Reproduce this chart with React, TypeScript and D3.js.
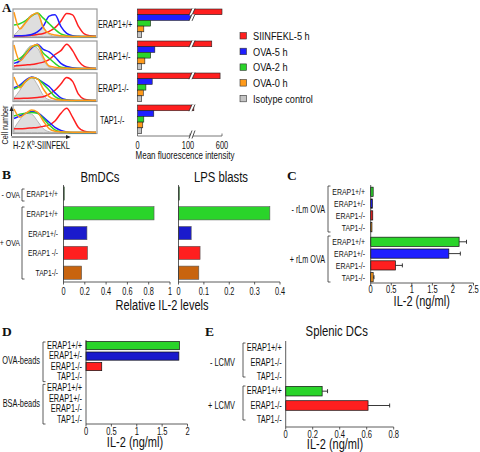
import React from "react";
import * as d3 from "d3";

const SANS = "'Liberation Sans', Arial, Helvetica, sans-serif";
const SERIF = "'Liberation Serif', 'Times New Roman', serif";

const RED = "#ff1f1f";
const BLUE = "#1f1fff";
const GREEN = "#2ad42a";
const ORANGE = "#ff9a1a";
const GRAY = "#c4c4c4";
const BROWN = "#c8640f";
const BBLUE = "#1a1acc";

// ---------- Panel A ----------
const aGenotypes = ["ERAP1+/+", "ERAP1+/-", "ERAP1-/-", "TAP1-/-"];
const aSeriesNames = ["SIINFEKL-5 h", "OVA-5 h", "OVA-2 h", "OVA-0 h", "Isotype control"];
const aSiinfekl5h = [600, 440, 570, 160];
const aOva5h = [105, 33, 28, 31];
const aOva2h = [25, 25, 16, 12];
const aOva0h = [12, 14, 11, 10];
const aIsotype = [8, 8, 8, 8];
const aTicks = [0, 100, 600];

const histBins = [0, 1, 2, 3, 4, 5, 6, 7, 8, 9, 10, 11, 12, 13, 14];
const histIsotype = [
  [5, 30, 60, 85, 88, 40, 8, 1, 0, 0, 0, 0, 0, 0, 0],
  [5, 30, 68, 90, 80, 35, 5, 0, 0, 0, 0, 0, 0, 0, 0],
  [10, 40, 78, 90, 62, 20, 3, 0, 0, 0, 0, 0, 0, 0, 0],
  [15, 50, 75, 72, 45, 15, 3, 0, 0, 0, 0, 0, 0, 0, 0],
];
const histOva0h = [
  [95, 30, 55, 82, 92, 35, 12, 6, 3, 1, 0, 0, 0, 0, 0],
  [92, 30, 55, 85, 94, 45, 10, 5, 2, 1, 0, 0, 0, 0, 0],
  [92, 50, 75, 90, 85, 45, 15, 5, 2, 1, 0, 0, 0, 0, 0],
  [92, 60, 75, 88, 80, 45, 15, 5, 3, 2, 1, 1, 1, 1, 1],
];
const histOva2h = [
  [45, 50, 62, 80, 92, 72, 50, 28, 10, 3, 0, 0, 0, 0, 0],
  [30, 40, 60, 85, 90, 60, 40, 20, 5, 2, 0, 0, 0, 0, 0],
  [45, 55, 75, 90, 85, 65, 40, 15, 4, 1, 0, 0, 0, 0, 0],
  [65, 72, 76, 78, 75, 55, 30, 10, 3, 1, 0, 0, 0, 0, 0],
];
const histOva5h = [
  [2, 3, 4, 8, 18, 40, 80, 85, 40, 12, 3, 1, 0, 0, 0],
  [20, 30, 55, 80, 95, 75, 65, 45, 20, 8, 3, 1, 0, 0, 0],
  [50, 60, 80, 92, 85, 70, 55, 30, 10, 3, 1, 0, 0, 0, 0],
  [55, 65, 75, 82, 78, 60, 40, 20, 8, 2, 0, 0, 0, 0, 0],
];
const histSiinfekl5h = [
  [2, 2, 3, 5, 8, 12, 20, 35, 60, 90, 85, 40, 10, 3, 1],
  [10, 12, 14, 16, 20, 25, 35, 55, 70, 95, 70, 30, 8, 2, 0],
  [8, 8, 9, 10, 12, 15, 25, 40, 65, 90, 75, 25, 5, 1, 0],
  [15, 15, 16, 18, 20, 24, 30, 45, 75, 95, 60, 20, 5, 1, 0],
];

// ---------- Panel B ----------
const bRowKeys = ["-OVA ERAP1+/+", "+OVA ERAP1+/+", "+OVA ERAP1+/-", "+OVA ERAP1-/-", "+OVA TAP1-/-"];
const bRowLabels = ["ERAP1+/+", "ERAP1+/+", "ERAP1+/-", "ERAP1 -/-", "TAP1-/-"];
const bBmDCs = [0.005, 0.85, 0.22, 0.225, 0.17];
const bLpsBlasts = [0.004, 0.36, 0.05, 0.085, 0.08];
const bTicksBm = [0, 0.2, 0.4, 0.6, 0.8, 1];
const bTicksLps = [0, 0.1, 0.2, 0.3, 0.4];

// ---------- Panel C ----------
const cGroups = ["- rLm OVA", "+ rLm OVA"];
const cRowLabels = ["ERAP1+/+", "ERAP1+/-", "ERAP1-/-", "TAP1-/-"];
const cMinus = [0.06, 0.04, 0.05, 0.03];
const cPlus = [2.15, 1.9, 0.6, 0.06];
const cPlusErr = [0.18, 0.28, 0.17, 0.02];
const cTicks = [0, 0.5, 1, 1.5, 2, 2.5];

// ---------- Panel D ----------
const dGroups = ["OVA-beads", "BSA-beads"];
const dRowLabels = ["ERAP1+/+", "ERAP1+/-", "ERAP1-/-", "TAP1-/-"];
const dOvaBeads = [1.84, 1.83, 0.31, 0];
const dBsaBeads = [0, 0, 0, 0];
const dTicks = [0, 0.5, 1, 1.5, 2];

// ---------- Panel E ----------
const eGroups = ["- LCMV", "+ LCMV"];
const eRowLabels = ["ERAP1+/+", "ERAP1-/-", "TAP1-/-"];
const eMinus = [0, 0, 0];
const ePlus = [0.27, 0.61, 0];
const ePlusErr = [0.04, 0.16, 0];
const eTicks = [0, 0.2, 0.4, 0.6, 0.8];

function T({ x, y, s = 10, sx = 0.75, anchor = "start", weight = "normal", family = SANS, rotate = 0, children }: any) {
  return (
    <text
      transform={`translate(${x},${y}) rotate(${rotate}) scale(${sx},1)`}
      fontSize={s}
      textAnchor={anchor}
      fontFamily={family}
      fontWeight={weight}
      fill="#111"
    >
      {children}
    </text>
  );
}

function Bracket({ x, y0, y1, w = 3 }: any) {
  return <path d={`M${x + w},${y0}H${x}V${y1}H${x + w}`} fill="none" stroke="#333" strokeWidth={0.8} />;
}

function XAxis({ scale, ticks, y, labelY, s = 10.5, sx = 0.7, fmt }: any) {
  const [r0, r1] = [scale(ticks[0]), scale(ticks[ticks.length - 1])];
  return (
    <g>
      <line x1={r0} x2={r1} y1={y} y2={y} stroke="#333" strokeWidth={0.8} />
      {ticks.map((t: number) => (
        <g key={t}>
          <line x1={scale(t)} x2={scale(t)} y1={y} y2={y + 2.5} stroke="#333" strokeWidth={0.8} />
          <T x={scale(t)} y={labelY} s={s} sx={sx} anchor="middle">
            {fmt ? fmt(t) : String(t)}
          </T>
        </g>
      ))}
    </g>
  );
}

function Histogram({ i, top }: any) {
  const x0 = 13, x1 = 97, h = 28.5;
  const xs = d3.scaleLinear().domain([0, 14]).range([x0 + 1, x1 - 1]);
  const ys = d3.scaleLinear().domain([0, 100]).range([top + h - 1, top + 2]);
  const line = d3.line<number>().x((_, k) => xs(histBins[k])).y((v) => ys(v)).curve(d3.curveMonotoneX);
  const area = d3
    .area<number>()
    .x((_, k) => xs(histBins[k]))
    .y0(ys(0))
    .y1((v) => ys(v))
    .curve(d3.curveMonotoneX);
  return (
    <g>
      <rect x={x0} y={top} width={x1 - x0} height={h} fill="#fff" stroke="#9a9a9a" strokeWidth={1.2} />
      <path d={area(histIsotype[i]) || ""} fill="#dedede" stroke="#a8a8a8" strokeWidth={0.8} />
      <path d={line(histSiinfekl5h[i]) || ""} fill="none" stroke={RED} strokeWidth={1.5} />
      <path d={line(histOva5h[i]) || ""} fill="none" stroke={BLUE} strokeWidth={1.5} />
      <path d={line(histOva2h[i]) || ""} fill="none" stroke={GREEN} strokeWidth={1.5} />
      <path d={line(histOva0h[i]) || ""} fill="none" stroke={ORANGE} strokeWidth={1.5} />
      <T x={98 + (i === 3 ? 2 : 0)} y={top + 19} s={11} sx={0.66}>
        {aGenotypes[i]}
      </T>
    </g>
  );
}

function PanelA() {
  const xA = d3.scaleLinear().domain([0, 100, 600]).range([137.5, 190, 222]);
  const yG = d3.scaleBand().domain(aGenotypes).range([9, 133.5]).paddingInner(0.11);
  const yS = d3.scaleBand().domain(aSeriesNames).range([0, yG.bandwidth()]);
  const series = [aSiinfekl5h, aOva5h, aOva2h, aOva0h, aIsotype];
  const cols = [RED, BLUE, GREEN, ORANGE, GRAY];
  const xb = xA(100) + 2;
  const brk = (yt: number, yb: number, key: string) => (
    <g key={key}>
      <polygon points={`${xb - 3},${yb + 0.5} ${xb},${yb + 0.5} ${xb + 3},${yt - 0.5} ${xb},${yt - 0.5}`} fill="#fff" />
      <line x1={xb - 3} y1={yb + 0.5} x2={xb} y2={yt - 0.5} stroke="#222" strokeWidth={0.8} />
      <line x1={xb} y1={yb + 0.5} x2={xb + 3} y2={yt - 0.5} stroke="#222" strokeWidth={0.8} />
    </g>
  );
  return (
    <g>
      <T x={2} y={12} s={13} sx={1} weight="bold" family={SERIF}>A</T>
      {aGenotypes.map((g, i) => (
        <Histogram key={g} i={i} top={[9, 41, 73, 105][i]} />
      ))}
      {/* axis arrows */}
      <line x1={11.5} y1={136} x2={11.5} y2={110} stroke="#222" strokeWidth={0.9} />
      <polygon points="9.5,111 13.5,111 11.5,106" fill="#222" />
      <line x1={11.5} y1={137} x2={67} y2={137} stroke="#222" strokeWidth={0.9} />
      <polygon points="66,135 66,139 71,137" fill="#222" />
      <T x={8} y={125} s={9.5} sx={0.76} anchor="middle" rotate={-90}>Cell number</T>
      <T x={13} y={148.5} s={10} sx={0.74}>
        H-2 K<tspan fontSize={6.5} dy={-3.5}>b</tspan>
        <tspan dy={3.5}>-SIINFEKL</tspan>
      </T>
      {/* bars */}
      {aGenotypes.map((g, gi) => (
        <g key={g}>
          {series.map((s, si) => {
            const y = (yG(g) as number) + (yS(aSeriesNames[si]) as number);
            const h = yS.bandwidth();
            return (
              <rect key={si} x={xA(0)} y={y} width={xA(s[gi]) - xA(0)} height={h} fill={cols[si]} stroke="#222" strokeWidth={0.6} />
            );
          })}
          {series.map((s, si) => {
            if (s[gi] <= 100) return null;
            const y = (yG(g) as number) + (yS(aSeriesNames[si]) as number);
            return brk(y, y + yS.bandwidth(), `b${si}`);
          })}
        </g>
      ))}
      <line x1={xA(0)} x2={xA(600)} y1={136} y2={136} stroke="#555" strokeWidth={0.8} />
      {aTicks.map((t) => (
        <line key={t} x1={xA(t)} x2={xA(t)} y1={133.5} y2={136} stroke="#555" strokeWidth={0.8} />
      ))}
      {brk(131, 138, "axis")}
      {aTicks.map((t) => (
        <T key={t} x={xA(t) + (t === 100 ? -2 : 0)} y={149} s={10} sx={0.74} anchor="middle">{String(t)}</T>
      ))}
      <T x={185} y={159} s={10.5} sx={0.76} anchor="middle">Mean fluorescence intensity</T>
      {/* legend */}
      {aSeriesNames.map((n, i) => (
        <g key={n}>
          <rect x={240} y={32.5 + i * 15.7} width={6.5} height={6.5} fill={cols[i]} stroke="#333" strokeWidth={0.6} />
          <T x={253} y={40 + i * 15.7} s={11.5} sx={0.8}>{n}</T>
        </g>
      ))}
    </g>
  );
}

function PanelB() {
  const yB = d3.scaleBand().domain(bRowKeys).range([186.9, 279.3]).paddingInner(0.333);
  const xBm = d3.scaleLinear().domain([0, 1]).range([63.5, 170]);
  const xLps = d3.scaleLinear().domain([0, 0.4]).range([178.5, 280]);
  const cols = [GREEN, GREEN, BBLUE, RED, BROWN];
  const axY = 282;
  return (
    <g>
      <T x={2} y={179} s={13.5} sx={1} weight="bold" family={SERIF}>B</T>
      <T x={100} y={181.5} s={14.5} sx={0.78} anchor="middle">BmDCs</T>
      <T x={221} y={181.5} s={14.5} sx={0.78} anchor="middle">LPS  blasts</T>
      <T x={20} y={198} s={9.5} sx={0.74} anchor="end">- OVA</T>
      <T x={20} y={246} s={9.5} sx={0.74} anchor="end">+ OVA</T>
      <Bracket x={22} y0={189} y1={201} w={2.5} />
      <Bracket x={22} y0={207} y1={279} w={2.5} />
      {bRowKeys.map((k, i) => {
        const y = yB(k) as number;
        const h = yB.bandwidth();
        return (
          <g key={k}>
            <T x={58} y={y + h / 2 + 3.4} s={9.5} sx={0.7} anchor="end">{bRowLabels[i]}</T>
            <rect x={xBm(0)} y={y} width={Math.max(xBm(bBmDCs[i]) - xBm(0), 0.8)} height={h} fill={cols[i]} stroke="#555" strokeWidth={0.6} />
            <rect x={xLps(0)} y={y} width={Math.max(xLps(bLpsBlasts[i]) - xLps(0), 0.8)} height={h} fill={cols[i]} stroke="#555" strokeWidth={0.6} />
          </g>
        );
      })}
      <line x1={xBm(0)} x2={xBm(0)} y1={185} y2={axY} stroke="#333" strokeWidth={0.8} />
      <line x1={xLps(0)} x2={xLps(0)} y1={185} y2={axY} stroke="#333" strokeWidth={0.8} />
      <XAxis scale={xBm} ticks={bTicksBm} y={axY} labelY={295} />
      <XAxis scale={xLps} ticks={bTicksLps} y={axY} labelY={295} />
      <T x={162} y={310} s={14.5} sx={0.76} anchor="middle">Relative IL-2 levels</T>
    </g>
  );
}

function ErrBar({ x0, x1, y }: any) {
  if (x1 - x0 < 0.5) return null;
  return (
    <g>
      <line x1={x0} x2={x1} y1={y} y2={y} stroke="#222" strokeWidth={0.9} />
      <line x1={x1} x2={x1} y1={y - 2} y2={y + 2} stroke="#222" strokeWidth={0.9} />
    </g>
  );
}

function PanelC() {
  const xC = d3.scaleLinear().domain([0, 2.5]).range([370.7, 473.5]);
  const yG = d3.scaleBand().domain(cGroups).range([186, 283]).paddingInner(0.06);
  const yR = d3.scaleBand().domain(cRowLabels).range([0, yG.bandwidth()]).paddingInner(0.22).paddingOuter(0.1);
  const cols = [GREEN, BLUE, RED, ORANGE];
  const groups = [cMinus, cPlus];
  const errs = [null, cPlusErr];
  return (
    <g>
      <T x={287} y={180} s={13.5} sx={1} weight="bold" family={SERIF}>C</T>
      {cGroups.map((g, gi) => {
        const g0 = yG(g) as number;
        const gh = yG.bandwidth();
        return (
          <g key={g}>
            <T x={325} y={g0 + gh / 2 + 3} s={10} sx={0.72} anchor="end">{g}</T>
            <Bracket x={328} y0={g0} y1={g0 + gh - 1} w={2.5} />
            {cRowLabels.map((r, ri) => {
              const y = g0 + (yR(r) as number);
              const h = yR.bandwidth();
              const v = groups[gi][ri];
              const e = errs[gi];
              return (
                <g key={r}>
                  <T x={365} y={y + h / 2 + 3.3} s={9.5} sx={0.73} anchor="end">{r}</T>
                  <rect x={xC(0)} y={y} width={Math.max(xC(v) - xC(0), 0.8)} height={h} fill={cols[ri]} stroke="#111" strokeWidth={0.7} />
                  {e && <ErrBar x0={xC(v)} x1={xC(v + e[ri])} y={y + h / 2} />}
                </g>
              );
            })}
          </g>
        );
      })}
      <line x1={xC(0)} x2={xC(0)} y1={185} y2={283} stroke="#333" strokeWidth={0.8} />
      <XAxis scale={xC} ticks={cTicks} y={283} labelY={293} s={10.5} sx={0.72} />
      <T x={421.7} y={306} s={14.5} sx={0.76} anchor="middle">IL-2 (ng/ml)</T>
    </g>
  );
}

function PanelD() {
  const xD = d3.scaleLinear().domain([0, 2]).range([86, 187.5]);
  const yG = d3.scaleBand().domain(dGroups).range([341, 424]).paddingInner(0.04);
  const yR = d3.scaleBand().domain(dRowLabels).range([0, yG.bandwidth()]).paddingInner(0.22).paddingOuter(0.05);
  const cols = [GREEN, BBLUE, RED, ORANGE];
  const groups = [dOvaBeads, dBsaBeads];
  return (
    <g>
      <T x={2} y={336} s={13.5} sx={1} weight="bold" family={SERIF}>D</T>
      {dGroups.map((g, gi) => {
        const g0 = yG(g) as number;
        const gh = yG.bandwidth();
        return (
          <g key={g}>
            <T x={40} y={g0 + gh / 2 + 3} s={10} sx={0.74} anchor="end">{g}</T>
            <Bracket x={43} y0={g0 + 1} y1={g0 + gh} w={2.5} />
            {dRowLabels.map((r, ri) => {
              const y = g0 + (yR(r) as number);
              const h = yR.bandwidth();
              const v = groups[gi][ri];
              return (
                <g key={r}>
                  <T x={82} y={y + h / 2 + 3.3} s={10} sx={0.74} anchor="end">{r}</T>
                  {v > 0 && (
                    <rect x={xD(0)} y={y} width={xD(v) - xD(0)} height={h} fill={cols[ri]} stroke="#111" strokeWidth={0.7} />
                  )}
                </g>
              );
            })}
          </g>
        );
      })}
      <line x1={xD(0)} x2={xD(0)} y1={340} y2={424} stroke="#333" strokeWidth={0.8} />
      <XAxis scale={xD} ticks={dTicks} y={424} labelY={434.5} s={10.5} sx={0.72} />
      <T x={135} y={447} s={14.5} sx={0.76} anchor="middle">IL-2 (ng/ml)</T>
    </g>
  );
}

function PanelE() {
  const xE = d3.scaleLinear().domain([0, 0.8]).range([285.7, 393.7]);
  const yG = d3.scaleBand().domain(eGroups).range([341, 427]);
  const yR = d3.scaleBand().domain(eRowLabels).range([0, yG.bandwidth()]).paddingInner(0.33).paddingOuter(0.165);
  const cols = [GREEN, RED, ORANGE];
  const groups = [eMinus, ePlus];
  const errs = [null, ePlusErr];
  return (
    <g>
      <T x={205} y={336} s={13.5} sx={1} weight="bold" family={SERIF}>E</T>
      <T x={336.7} y={336} s={14.5} sx={0.78} anchor="middle">Splenic DCs</T>
      {eGroups.map((g, gi) => {
        const g0 = yG(g) as number;
        const gh = yG.bandwidth();
        return (
          <g key={g}>
            <T x={235} y={g0 + gh / 2 + 3} s={10} sx={0.74} anchor="end">{g}</T>
            <Bracket x={243} y0={g0 + 2} y1={g0 + gh - 7} w={2.5} />
            {eRowLabels.map((r, ri) => {
              const y = g0 + (yR(r) as number);
              const h = yR.bandwidth();
              const v = groups[gi][ri];
              const e = errs[gi];
              return (
                <g key={r}>
                  <T x={281.7} y={y + h / 2 + 3.3} s={10} sx={0.74} anchor="end">{r}</T>
                  {v > 0 && (
                    <rect x={xE(0)} y={y} width={xE(v) - xE(0)} height={h} fill={cols[ri]} stroke="#111" strokeWidth={0.7} />
                  )}
                  {e && v > 0 && <ErrBar x0={xE(v)} x1={xE(v + e[ri])} y={y + h / 2} />}
                </g>
              );
            })}
          </g>
        );
      })}
      <line x1={xE(0)} x2={xE(0)} y1={341} y2={427} stroke="#333" strokeWidth={0.8} />
      <XAxis scale={xE} ticks={eTicks} y={427} labelY={437.5} s={10.5} sx={0.72} />
      <T x={335} y={449} s={14.5} sx={0.76} anchor="middle">IL-2 (ng/ml)</T>
    </g>
  );
}

export default function App() {
  return (
    <svg
      width={480}
      height={452}
      viewBox="0 0 480 452"
      style={{ position: "fixed", left: 0, top: 0, background: "#fff" }}
    >
      <rect width={480} height={452} fill="#fff" />
      <PanelA />
      <PanelB />
      <PanelC />
      <PanelD />
      <PanelE />
    </svg>
  );
}
